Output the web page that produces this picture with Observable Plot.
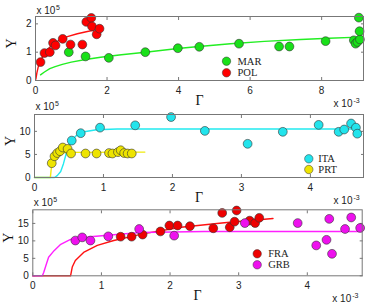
<!DOCTYPE html>
<html><head><meta charset="utf-8">
<script src="https://cdn.jsdelivr.net/npm/d3@7"></script>
<script src="https://cdn.jsdelivr.net/npm/@observablehq/plot@0.6"></script>
<style>
body{margin:0;background:#fff;}
#chart{position:relative;width:374px;height:305px;overflow:hidden;background:#fff;}
#chart svg{position:absolute;left:0;overflow:visible;}
</style></head><body><div id="chart"></div>
<script>
// ---- Panel 1 (Γ ×10^-3, Y ×10^5) ----
const marX = [0.93,1.40,2.05,3.07,3.98,4.58,5.69,6.81,7.10,8.11,8.90,8.95,9.00,9.07,9.04,9.06];
const marY = [1.00,0.85,0.80,1.00,1.14,1.19,1.30,1.20,1.20,1.39,1.42,1.30,1.36,1.45,2.22,1.74];
const polX = [0.14,0.25,0.40,0.49,0.56,0.76,0.98,1.31,1.42,1.56,1.58,1.71,1.79];
const polY = [0.65,0.97,1.00,1.33,1.24,1.47,1.27,1.27,2.07,2.21,1.91,1.63,1.83];
const marFitX = [0.14,0.25,0.4,0.55,0.75,1.0,1.4,1.82,2.4,3.07,3.98,4.57,5.45,6.4,7.41,8.2,9.05];
const marFitY = [0.20,0.30,0.42,0.49,0.57,0.65,0.74,0.82,0.91,1.00,1.13,1.20,1.30,1.38,1.45,1.49,1.53];
const polFitX = [0.01,0.04,0.08,0.14,0.25,0.4,0.55,0.7,0.89,1.17,1.45,1.62];
const polFitY = [0.05,0.28,0.50,0.70,0.95,1.18,1.33,1.45,1.55,1.65,1.73,1.77];
const p1XTicks = [0,2,4,6,8];
const p1YTicks = [0,1,2];

// ---- Panel 2 ----
const itaX = [0.54,0.67,0.95,1.46,1.98,2.47,3.09,3.60,4.12,4.41,4.49,4.59,4.66,4.68];
const itaY = [8.0,9.6,10.8,11.3,13.1,10.1,7.3,9.9,11.4,9.9,10.4,11.7,10.8,9.5];
const prtX = [0.25,0.29,0.33,0.37,0.41,0.48,0.53,0.74,0.90,1.08,1.13,1.21,1.25,1.30,1.35,1.41];
const prtY = [3.1,4.6,5.3,5.7,6.5,6.2,5.2,5.2,5.2,5.3,5.2,5.5,5.9,5.3,5.2,5.2];
const itaFitX = [0,0.29,0.33,0.38,0.42,0.46,0.5,0.54,0.6,0.72,0.9,1.2,1.6,4.7];
const itaFitY = [0,0,0.4,1.3,3.0,5.2,6.9,8.0,9.0,9.9,10.35,10.5,10.5,10.5];
const prtFitX = [0,0.23,0.24,0.26,0.28,0.31,0.36,0.5,1.6];
const prtFitY = [0,0,1.5,3.6,4.6,5.1,5.35,5.45,5.5];
const p2XTicks = [0,1,2,3,4];
const p2YTicks = [0,5,10];

// ---- Panel 3 ----
const fraX = [1.28,1.44,1.60,1.86,1.99,2.11,2.29,2.63,2.76,2.87,2.94,2.97,3.16,3.24,3.30];
const fraY = [11.2,11.2,11.8,12.7,14.4,14.4,14.2,13.6,18.0,13.9,15.5,18.7,15.8,15.1,16.6];
const grbX = [0.62,0.72,0.84,1.10,1.55,2.06,3.09,3.86,4.13,4.28,4.32,4.36,4.55,4.64,4.77];
const grbY = [10.1,11.0,10.1,11.3,13.4,11.5,15.1,15.1,8.7,10.3,16.3,6.3,13.4,16.7,13.7];
const fraFitX = [0,0.55,0.56,0.575,0.62,0.74,0.94,1.18,1.43,1.6,2.16,2.79,3.5];
const fraFitY = [0,0,1.0,2.5,4.4,6.7,8.7,10.1,11.2,12.0,13.9,15.2,16.4];
const grbFitX = [0,0.14,0.16,0.19,0.23,0.31,0.4,0.55,0.84,1.09,1.57,2.5,4.8];
const grbFitY = [0,0,1.0,2.9,5.3,7.2,8.9,10.4,11.2,11.6,12.4,12.7,12.7];
const p3XTicks = [0,1,2,3,4];
const p3YTicks = [0,5,10,15];

const xLabel = "Γ", yLabel = "Y";
const xExp = ["x 10", "-3"], yExp = ["x 10", "5"];

const zip = (xs, ys) => xs.map((x, i) => ({x, y: ys[i]}));
const SANS = "Liberation Sans, Arial, sans-serif";
const SERIF = "Liberation Serif, Times New Roman, serif";

function panel(c) {
  const marks = [];
  const tf = () => "";
  marks.push(Plot.axisX(c.xTicks, {anchor: "bottom", tickSize: 3, dy: -3, tickFormat: tf, label: null, stroke: "#777"}));
  marks.push(Plot.axisX(c.xTicks, {anchor: "top", tickSize: 3, dy: 3, tickFormat: tf, label: null, stroke: "#777"}));
  marks.push(Plot.axisY(c.yTicks, {anchor: "left", tickSize: 3, dx: 3, tickFormat: tf, label: null, stroke: "#777"}));
  marks.push(Plot.axisY(c.yTicks, {anchor: "right", tickSize: 3, dx: -3, tickFormat: tf, label: null, stroke: "#777"}));
  marks.push(Plot.axisX(c.xTicks, {anchor: "bottom", tickSize: 0, tickPadding: 6, label: null, fontSize: 10, fontFamily: SANS, fill: "#222"}));
  marks.push(Plot.axisY(c.yTicks, {anchor: "left", tickSize: 0, tickPadding: 4, label: null, fontSize: 10, fontFamily: SANS, fill: "#222"}));
  for (const s of c.series) {
    marks.push(Plot.line(zip(s.fitX, s.fitY), {x: "x", y: "y", stroke: s.line, strokeWidth: 1.4}));
  }
  for (const s of c.series) {
    marks.push(Plot.dot(zip(s.x, s.y), {x: "x", y: "y", r: 4.4, fill: s.fill, stroke: "#333", strokeWidth: 0.6}));
  }
  c.series.forEach((s, i) => {
    marks.push(Plot.dot([s.name], {frameAnchor: "top-left", dx: c.legDx, dy: c.legDy + i * c.legStep, r: 4.2, fill: s.fill, stroke: "#333", strokeWidth: 0.5}));
    marks.push(Plot.text([s.name], {text: d => d, frameAnchor: "top-left", dx: c.legDx + c.legGap, dy: c.legDy + i * c.legStep, textAnchor: "start", lineAnchor: "middle", fontSize: 10.5, fontFamily: SERIF, fill: "#222", letterSpacing: "1px"}));
  });
  marks.push(Plot.text([xLabel], {text: d => d, frameAnchor: "bottom", dy: 20, lineAnchor: "middle", fontSize: 14, fontFamily: SERIF, fill: "#111"}));
  marks.push(Plot.text([yLabel], {text: d => d, frameAnchor: "left", dx: -24, rotate: -90, lineAnchor: "middle", fontSize: 14, fontFamily: SERIF, fill: "#111"}));
  marks.push(Plot.text([yExp[0]], {text: d => d, frameAnchor: "top-left", dx: 1, dy: c.yExpDy, textAnchor: "start", lineAnchor: "bottom", fontSize: 10, fontFamily: SANS, fill: "#222"}));
  marks.push(Plot.text([yExp[1]], {text: d => d, frameAnchor: "top-left", dx: 20.5, dy: c.yExpDy - 4, textAnchor: "start", lineAnchor: "bottom", fontSize: 7, fontFamily: SANS, fill: "#222"}));
  if (c.xExp) {
    marks.push(Plot.text([xExp[0]], {text: d => d, frameAnchor: "bottom-right", dx: -11, dy: 26, textAnchor: "end", lineAnchor: "bottom", fontSize: 10, fontFamily: SANS, fill: "#222"}));
    marks.push(Plot.text([xExp[1]], {text: d => d, frameAnchor: "bottom-right", dx: -10, dy: 22, textAnchor: "start", lineAnchor: "bottom", fontSize: 7, fontFamily: SANS, fill: "#222"}));
  }
  marks.push(Plot.frame({stroke: "#777", strokeWidth: 1}));
  const svg = Plot.plot({
    width: 374, height: c.height,
    marginTop: c.mt, marginBottom: c.mb, marginLeft: c.ml, marginRight: c.mr,
    x: {domain: c.xDomain}, y: {domain: c.yDomain},
    style: {overflow: "visible", background: "transparent"},
    marks
  });
  svg.style.top = c.top + "px";
  document.getElementById("chart").appendChild(svg);
}

panel({top: 0, height: 100, mt: 16, mb: 20, ml: 35, mr: 11,
  xDomain: [0, 9.17], yDomain: [0, 2.26], xTicks: p1XTicks, yTicks: p1YTicks,
  legDx: 191, legDy: 44.7, legStep: 11.6, legGap: 11, yExpDy: -3, xExp: true,
  series: [
    {name: "MAR", x: marX, y: marY, fitX: marFitX, fitY: marFitY, fill: "#19e019", line: "#22ee22"},
    {name: "POL", x: polX, y: polY, fitX: polFitX, fitY: polFitY, fill: "#ff0000", line: "#ff1010"}
  ]});

panel({top: 100, height: 100, mt: 14, mb: 23, ml: 34, mr: 11,
  xDomain: [0, 4.77], yDomain: [0, 13.65], xTicks: p2XTicks, yTicks: p2YTicks,
  legDx: 274.3, legDy: 44.3, legStep: 10.7, legGap: 9.5, yExpDy: -4.5, xExp: true,
  series: [
    {name: "ITA", x: itaX, y: itaY, fitX: itaFitX, fitY: itaFitY, fill: "#22e4ec", line: "#22eaf0"},
    {name: "PRT", x: prtX, y: prtY, fitX: prtFitX, fitY: prtFitY, fill: "#eee400", line: "#f0ea10"}
  ]});

panel({top: 200, height: 105, mt: 9.3, mb: 29.7, ml: 32.3, mr: 12.3,
  xDomain: [0, 4.8], yDomain: [0, 18.9], xTicks: p3XTicks, yTicks: p3YTicks,
  legDx: 224.4, legDy: 44, legStep: 11, legGap: 11, yExpDy: -4, xExp: true,
  series: [
    {name: "FRA", x: fraX, y: fraY, fitX: fraFitX, fitY: fraFitY, fill: "#ee0000", line: "#ff1010"},
    {name: "GRB", x: grbX, y: grbY, fitX: grbFitX, fitY: grbFitY, fill: "#ee10ee", line: "#ff20ff"}
  ]});
</script></body></html>
